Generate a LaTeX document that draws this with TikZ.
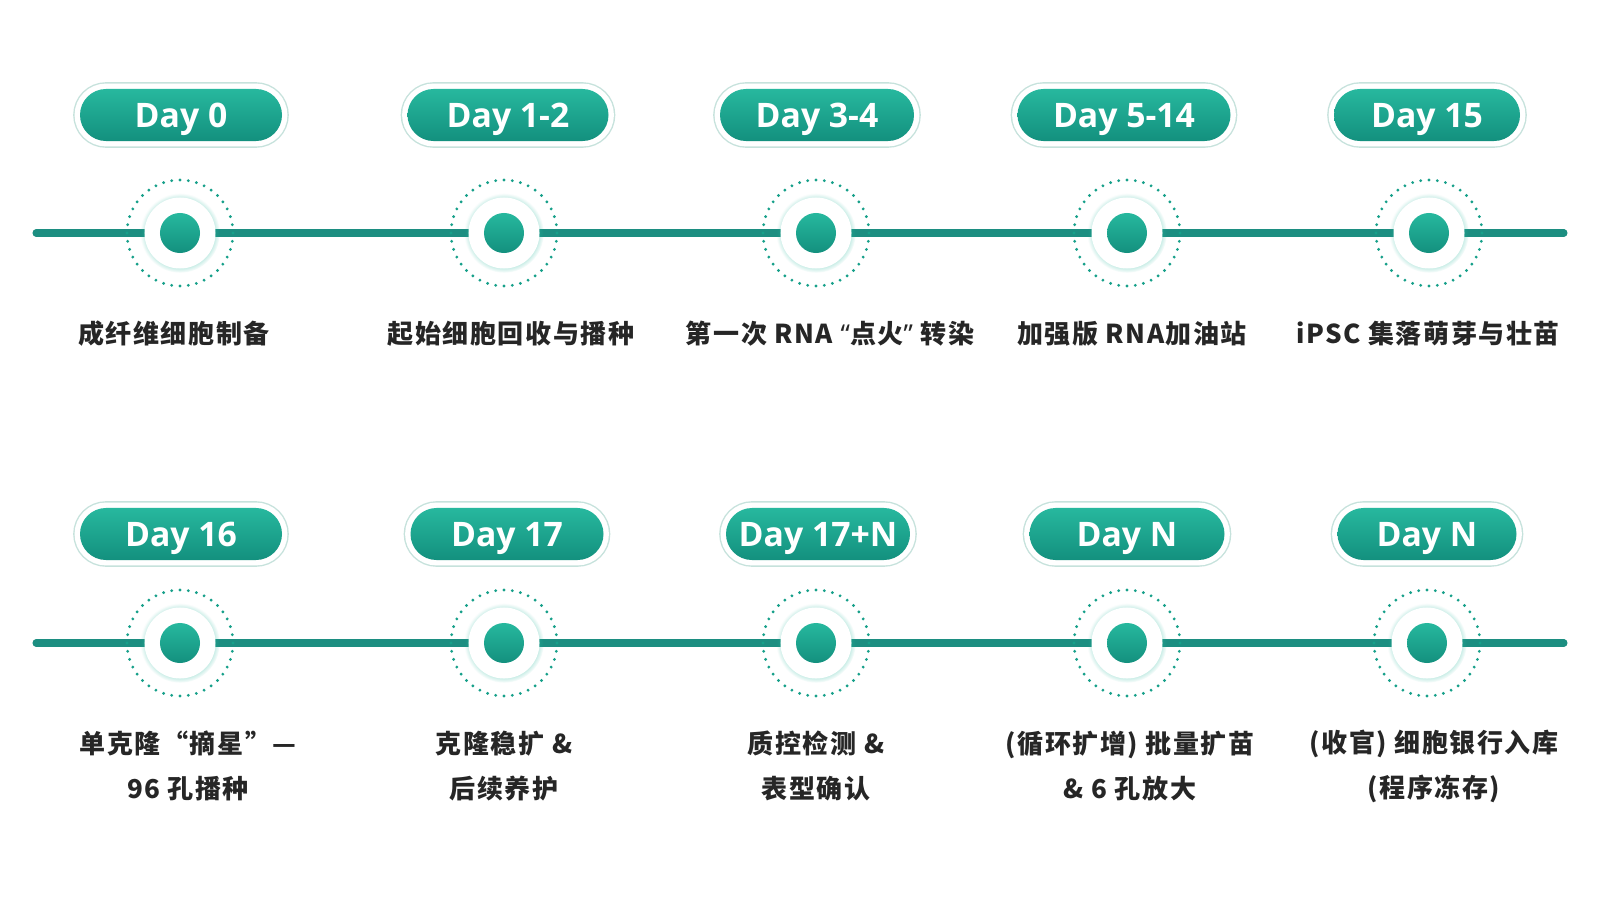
\documentclass[tikz,border=0pt]{standalone}
\usepackage{fontspec}
\setmainfont{Noto Sans CJK SC}[LetterSpace=6]
\newfontfamily\dayfont{Open Sans}
\newfontfamily\quotefont{Noto Sans}
\newcommand{\openq}{{\quotefont\bfseries “}}
\newcommand{\closeq}{{\quotefont\bfseries ”}}
\usetikzlibrary{positioning, calc, backgrounds, shadows}
\definecolor{TealTop}{HTML}{27B89E}
\definecolor{TealBottom}{HTML}{13907E}
\definecolor{TealLine}{HTML}{1C8E81}
\definecolor{TealDot}{HTML}{17A08A}
\definecolor{PillRim}{HTML}{C6E2DC}

\begin{document}
\begin{tikzpicture}[
    x=0.025cm, y=-0.025cm,
    daybox/.style={rectangle, rounded corners=0.65cm, minimum height=1.3cm, inner sep=0pt,
                   top color=TealTop, bottom color=TealBottom, text=white,
                   text height=0.6cm, text depth=0pt,
                   font=\dayfont\bfseries\fontsize{24}{28}\selectfont,
                   preaction={draw=PillRim, line width=0.34cm},
                   preaction={draw=white, line width=0.27cm}},
    halo/.style={circle, draw=TealDot, line width=2.2pt, line cap=round,
                 dash pattern=on 0pt off 5.92pt, minimum size=2.65cm, inner sep=0pt},
    disk/.style={circle, fill=white, minimum size=1.775cm, inner sep=0pt,
                 circular glow={fill=TealTop, opacity=0.3, shadow scale=1.12}},
    dot/.style={circle, minimum size=1cm, inner sep=0pt,
                top color=TealTop, bottom color=TealBottom},
    stage/.style={font=\bfseries\fontsize{18.5}{32}\selectfont, align=center, text=black!85},
    track/.style={line width=5pt, draw=TealLine, line cap=round}
]
  \useasboundingbox (0,0) rectangle (1600,900);

  % Upper row
  \foreach \n/\dx/\px/\pw/\lx/\day/\txt in {
      1/180/181/202/174/{Day 0}/{成纤维细胞制备},
      2/504/508/201/511/{Day 1-2}/{起始细胞回收与播种},
      3/816/817/194/830/{Day 3-4}/{第一次 RNA \openq 点火\closeq\ 转染},
      4/1127/1124/213/1132/{Day 5-14}/{加强版 RNA加油站},
      5/1429/1427/186/1428/{Day 15}/{iPSC 集落萌芽与壮苗}}{
    \node[halo] (ringA\n) at (\dx,233) {};
    \node[disk] (diskA\n) at (\dx,233) {};
    \node[dot] (dotA\n) at (\dx,233) {};
    \node[daybox, minimum width=\pw*0.025cm] (dayA\n) at (\px,115) {\day};
    \node[stage] (txtA\n) at (\lx,334) {\txt};
  }

  % Lower row
  \foreach \n/\dx/\px/\pw/\lx/\day/\txt in {
      1/180/181/202/188/{Day 16}/{单克隆“摘星”—\\96 孔播种},
      2/504/507/193/504/{Day 17}/{克隆稳扩 \&\\后续养护},
      3/816/818/184/816/{Day 17+N}/{质控检测 \&\\表型确认},
      4/1127/1127/195/1130/{Day N}/{(循环扩增) 批量扩苗\\\& 6 孔放大},
      5/1427/1427/179/1434/{Day N}/{(收官) 细胞银行入库\\(程序冻存)}}{
    \node[halo] (ringB\n) at (\dx,643) {};
    \node[disk] (diskB\n) at (\dx,643) {};
    \node[dot] (dotB\n) at (\dx,643) {};
    \node[daybox, minimum width=\pw*0.025cm] (dayB\n) at (\px,534) {\day};
    \node[stage] (txtB\n) at (\lx,766) {\txt};
  }

  % Tracks behind the dots
  \coordinate (startA) at (36,233);
  \coordinate (endA) at (1564,233);
  \coordinate (startB) at (36,643);
  \coordinate (endB) at (1564,643);
  \begin{scope}[on background layer]
    \fill[white] (0,0) rectangle (1600,900);
    \draw[track] (startA) \foreach \n in {1,...,5}{ -- (diskA\n) } -- (endA);
    \draw[track] (startB) \foreach \n in {1,...,5}{ -- (diskB\n) } -- (endB);
  \end{scope}
\end{tikzpicture}
\end{document}
